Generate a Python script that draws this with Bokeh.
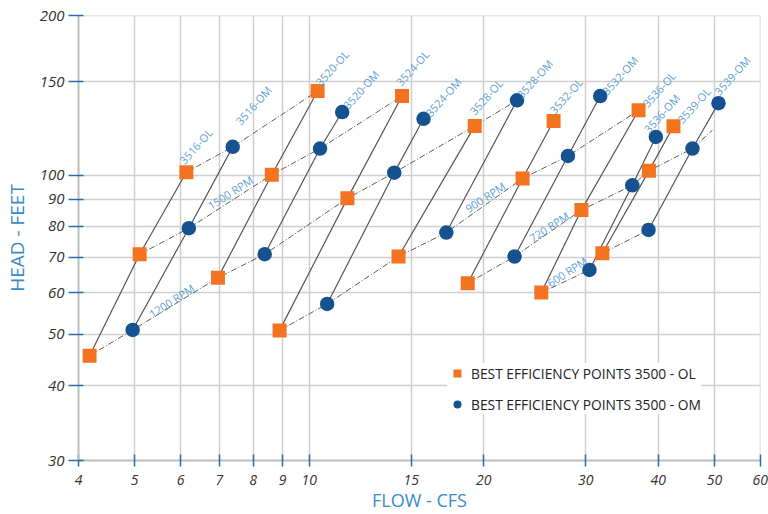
import math
from bokeh.plotting import figure
from bokeh.models import ColumnDataSource, Legend, LegendItem
from bokeh.embed import file_html
from bokeh.resources import INLINE
from bokeh.core.properties import value

# ---------------- data ----------------
ol_model = ["3516-OL", "3516-OL", "3516-OL", "3520-OL", "3520-OL", "3520-OL",
            "3524-OL", "3524-OL", "3524-OL", "3528-OL", "3528-OL",
            "3532-OL", "3532-OL", "3532-OL", "3536-OL", "3536-OL", "3536-OL",
            "3539-OL", "3539-OL", "3539-OL"]
ol_rpm = [1200, 1500, 1800, 1200, 1500, 1800, 900, 1200, 1500, 900, 1200,
          720, 900, None, 600, 720, 900, 600, 720, None]
ol_flow = [4.18, 5.10, 6.14, 6.96, 8.62, 10.34, 8.89, 11.64, 14.46, 14.26, 19.30,
           18.77, 23.34, 26.40, 25.14, 29.48, 37.0, 32.04, 38.55, 42.5]
ol_head = [45.6, 70.9, 101.3, 64.0, 100.2, 144.2, 50.9, 90.4, 141.1, 70.2, 123.9,
           62.5, 98.6, 126.6, 60.0, 85.9, 132.6, 71.2, 101.9, 123.7]

om_model = ["3516-OM", "3516-OM", "3516-OM", "3520-OM", "3520-OM", "3520-OM",
            "3524-OM", "3524-OM", "3524-OM", "3528-OM", "3528-OM",
            "3532-OM", "3532-OM", "3532-OM", "3536-OM", "3536-OM", "3536-OM",
            "3539-OM", "3539-OM", "3539-OM"]
om_rpm = [1200, 1500, 1800, 1200, 1500, None, 900, 1200, None, 900, 1200,
          720, 900, None, 600, 720, None, 600, 720, None]
om_flow = [4.96, 6.20, 7.38, 8.38, 10.44, 11.40, 10.74, 14.02, 15.75, 17.24, 22.83,
           22.61, 27.95, 31.77, 30.44, 36.09, 39.63, 38.49, 45.83, 50.82]
om_head = [51.0, 79.4, 113.1, 70.9, 112.3, 131.6, 57.1, 101.1, 127.8, 77.9, 138.5,
           70.2, 108.7, 141.1, 66.2, 95.7, 118.1, 78.8, 112.3, 136.8]

model_order = ["3516-OL", "3516-OM", "3520-OL", "3520-OM", "3524-OL", "3524-OM",
               "3528-OL", "3528-OM", "3532-OL", "3532-OM", "3536-OL", "3536-OM",
               "3539-OL", "3539-OM"]
rpm_order = [1800, 1500, 1200, 900, 720, 600]

# the 720 RPM line runs on past its last point
rpm720_tail_flow = [49.6]
rpm720_tail_head = [121.6]

rpm_label_text = ["1200 RPM", "1500 RPM", "900 RPM", "720 RPM", "600 RPM"]
rpm_label_flow = [5.79, 7.31, 20.12, 25.93, 27.85]
rpm_label_head = [57.9, 92.7, 90.9, 79.9, 65.7]

x_ticks = [4, 5, 6, 7, 8, 9, 10, 15, 20, 30, 40, 50, 60]
x_tick_labels = ["4", "5", "6", "7", "8", "9", "10", "15", "20", "30", "40", "50", "60"]
y_axis_bottom = 28.9          # the chart's bottom line, which it labels "30"
y_ticks = [y_axis_bottom, 40, 50, 60, 70, 80, 90, 100, 150, 200]
y_tick_labels = ["30", "40", "50", "60", "70", "80", "90", "100", "150", "200"]

legend_ol = "BEST EFFICIENCY POINTS 3500 - OL"
legend_om = "BEST EFFICIENCY POINTS 3500 - OM"

# ---------------- styling ----------------
ORANGE = "#f47321"
NAVY = "#15528f"
LINE = "#555555"
LABEL_BLUE = "#5f9fd4"
AXIS_BLUE = "#3a8bc8"
TICK_BLUE = "#2a6ead"
FONT = "Open Sans"

# label offsets (screen px) from each model's last point
label_offsets = {
    "3516-OL": (-5, -10), "3516-OM": (5, -24), "3520-OL": (0, -7), "3520-OM": (3, -5),
    "3524-OL": (-4, -12), "3524-OM": (4, -4), "3528-OL": (-3, -13), "3528-OM": (2, -4),
    "3532-OL": (-2, -9), "3532-OM": (4, -3), "3536-OL": (6, -5), "3536-OM": (-10, -6),
    "3539-OL": (6, -5), "3539-OM": (-2, -10),
}

p = figure(
    width=768, height=514,
    x_axis_type="log", y_axis_type="log",
    x_range=(4, 60.05), y_range=(y_axis_bottom, 200.3),
    output_backend="svg", toolbar_location=None,
    min_border_left=78, min_border_right=8, min_border_top=15, min_border_bottom=53,
    background_fill_color="white", border_fill_color="white",
)
p.outline_line_color = None

# grid
p.xgrid.grid_line_color = "#cfcfcf"
p.ygrid.grid_line_color = "#cfcfcf"
p.xgrid.grid_line_width = 1.5
p.ygrid.grid_line_width = 1.5

# axes
p.xaxis.ticker = x_ticks
p.yaxis.ticker = y_ticks
p.xaxis.major_label_overrides = {t: s for t, s in zip(x_ticks, x_tick_labels)}
p.yaxis.major_label_overrides = {t: s for t, s in zip(y_ticks, y_tick_labels)}
for ax in (p.xaxis[0], p.yaxis[0]):
    ax.axis_line_color = "#bdbdbd"
    ax.axis_line_width = 2
    ax.major_tick_line_color = TICK_BLUE
    ax.major_tick_line_width = 1.5
    ax.minor_tick_line_color = None
    ax.major_label_text_font = FONT
    ax.major_label_text_font_style = "italic"
    ax.major_label_text_color = "#333333"
    ax.axis_label_text_font = FONT
    ax.axis_label_text_font_style = "normal"
    ax.axis_label_text_color = AXIS_BLUE
p.xaxis.axis_label = "FLOW - CFS"
p.yaxis.axis_label = "HEAD - FEET"
p.xaxis.major_label_text_font_size = "14px"
p.yaxis.major_label_text_font_size = "15px"
p.xaxis.axis_label_text_font_size = "18px"
p.yaxis.axis_label_text_font_size = "19px"
p.xaxis.major_tick_in = 6
p.xaxis.major_tick_out = 6
p.yaxis.major_tick_in = 5
p.yaxis.major_tick_out = 10
p.xaxis.major_label_standoff = 8
p.xaxis.axis_label_standoff = 0
p.yaxis.major_label_standoff = 4
p.yaxis.axis_label_standoff = 7

# combine points
all_model = ol_model + om_model
all_rpm = ol_rpm + om_rpm
all_flow = ol_flow + om_flow
all_head = ol_head + om_head

# model lines (solid)
for m in model_order:
    pts = sorted((f, h) for f, h, mm in zip(all_flow, all_head, all_model) if mm == m)
    p.line([a for a, b in pts], [b for a, b in pts], line_color=LINE, line_width=1.2)

# constant-speed lines (dash-dot)
for r in rpm_order:
    pts = sorted((f, h) for f, h, rr in zip(all_flow, all_head, all_rpm) if rr == r)
    if r == 720:
        pts += list(zip(rpm720_tail_flow, rpm720_tail_head))
    p.line([a for a, b in pts], [b for a, b in pts], line_color="#5e5e5e",
           line_width=1, line_dash="6 2 1 2")

# markers
r_ol = p.scatter(ol_flow, ol_head, marker="square", size=14, fill_color=ORANGE, line_color=None)
r_om = p.scatter(om_flow, om_head, marker="circle", size=14.5, fill_color=NAVY, line_color=None)

# model labels
lx, ly, lt, ox, oy = [], [], [], [], []
for m in model_order:
    pts = sorted((f, h) for f, h, mm in zip(all_flow, all_head, all_model) if mm == m)
    f, h = pts[-1]
    lx.append(f); ly.append(h); lt.append(m)
    ox.append(label_offsets[m][0]); oy.append(label_offsets[m][1])
lsrc = ColumnDataSource(dict(x=lx, y=ly, text=lt, ox=ox, oy=oy))
p.text(x="x", y="y", text="text", x_offset="ox", y_offset="oy", source=lsrc,
       angle=math.radians(48), text_font=value(FONT), text_font_size="11px",
       text_color=LABEL_BLUE, text_align="left", text_baseline="alphabetic")

# rpm labels
rsrc = ColumnDataSource(dict(x=rpm_label_flow, y=rpm_label_head, text=rpm_label_text))
p.text(x="x", y="y", text="text", source=rsrc, angle=math.radians(33),
       text_font=value(FONT), text_font_size="11px", text_color=LABEL_BLUE,
       text_align="center", text_baseline="middle")

legend = Legend(
    items=[LegendItem(label=legend_ol, renderers=[r_ol]),
           LegendItem(label=legend_om, renderers=[r_om])],
    location=(369, 46), margin=0, padding=6, spacing=11,
    glyph_width=20, glyph_height=20, label_height=20, label_standoff=4,
    label_text_font=FONT, label_text_font_size="13.8px", label_text_color="#222222",
    background_fill_color="white", background_fill_alpha=1.0,
    border_line_color=None,
)
p.add_layout(legend)

open("out.html", "w").write(file_html(p, INLINE))
